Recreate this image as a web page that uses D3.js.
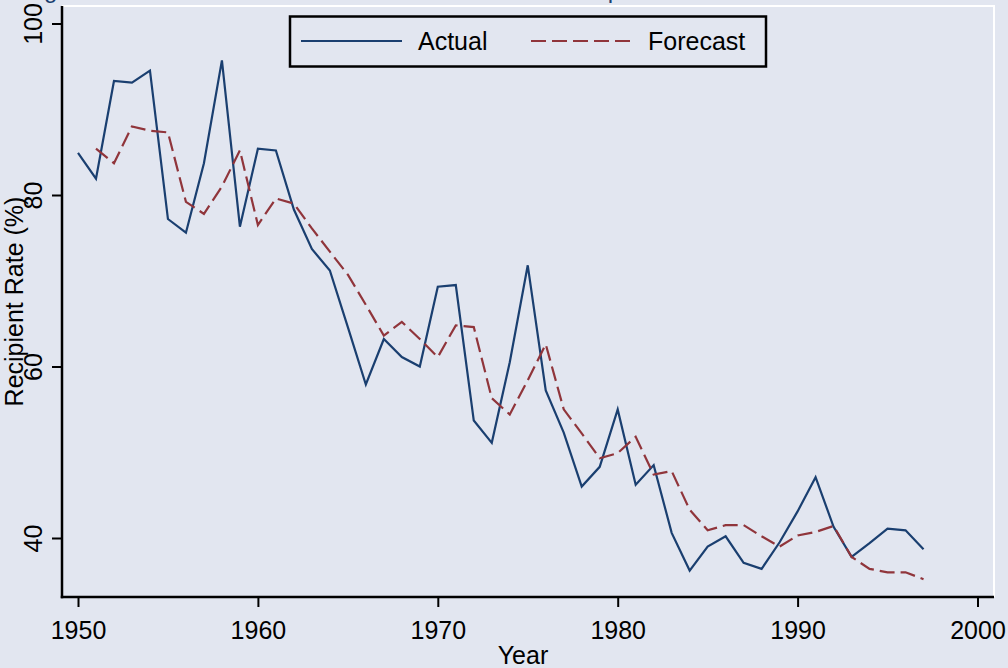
<!DOCTYPE html>
<html>
<head>
<meta charset="utf-8">
<script src="https://cdn.jsdelivr.net/npm/d3@7/dist/d3.min.js"></script>
<style>
  html, body { margin: 0; padding: 0; background: #e2e6f0; }
  svg { display: block; font-family: "Liberation Sans", Arial, sans-serif; }
</style>
</head>
<body>
<div id="chart"></div>
<script>
// data
const actualYears = d3.range(1950, 1998);
const actualValues = [
  84.9, 81.9, 93.3, 93.1, 94.5, 77.2, 75.6, 83.7, 95.7, 76.3,
  85.4, 85.2, 78.3, 73.7, 71.2, 64.6, 57.9, 63.2, 61.1, 60.0,
  69.3, 69.5, 53.7, 51.1, 60.5, 71.8, 57.2, 52.3, 46.0, 48.3,
  55.0, 46.2, 48.5, 40.6, 36.2, 39.0, 40.2, 37.1, 36.4, 39.5,
  43.1, 47.1, 41.3, 37.8, 39.4, 41.1, 40.9, 38.7
];
const forecastYears = d3.range(1951, 1998);
const forecastValues = [
  85.4, 83.7, 88.0, 87.5, 87.3, 79.2, 77.8, 81.0, 85.2,
  76.5, 79.6, 79.0, 76.1, 73.4, 70.7, 67.2, 63.6, 65.2, 63.2,
  61.1, 64.8, 64.6, 56.3, 54.4, 58.4, 62.6, 55.0, 52.2, 49.3,
  49.9, 51.8, 47.4, 47.8, 43.3, 40.9, 41.5, 41.5, 40.2, 39.0,
  40.3, 40.7, 41.4, 37.8, 36.4, 36.0, 36.0, 35.2
];
const xTicks = [1950, 1960, 1970, 1980, 1990, 2000];
const yTicks = [40, 60, 80, 100];
const seriesNames = ["Actual", "Forecast"];

const W = 1008, H = 668;
const plot = {left: 62, right: 994, top: 6, bottom: 597};
const navy = "#1a3f70", maroon = "#90353b";
const fs = "25px";

const svg = d3.select("#chart").append("svg")
  .attr("width", W).attr("height", H);

svg.append("rect").attr("width", W).attr("height", H).attr("fill", "#e2e6f0");

// SCALES
const xScale = d3.scaleLinear().domain([1950, 2000]).range([78, 977.5]);
const yScale = d3.scaleLinear().domain([40, 100]).range([538, 23.5]);

// title (only its descenders are left inside the frame)
svg.append("text")
  .attr("x", 24).attr("y", -2)
  .attr("fill", navy)
  .style("font-size", "24px")
  .text("Figure 1: Actual and Forecast Values of the AFDC Recipient Rate");

// plot region outline (white)
svg.append("path")
  .attr("d", `M${plot.left},${plot.top}H${plot.right}V${plot.bottom}`)
  .attr("fill", "none").attr("stroke", "#ffffff").attr("stroke-width", 2);

// AXES
const xAxis = d3.axisBottom(xScale).tickValues(xTicks).tickSize(10).tickFormat(d3.format("d"));
const yAxis = d3.axisLeft(yScale).tickValues(yTicks).tickSize(10);

const gx = svg.append("g").attr("class", "x axis")
  .attr("transform", `translate(0,${plot.bottom})`)
  .call(xAxis);
gx.select(".domain").remove();
gx.selectAll("line").attr("stroke", "#000").attr("stroke-width", 2);
gx.selectAll("text")
  .attr("fill", "#000").style("font-size", fs)
  .attr("y", 42).attr("dy", 0);

const gy = svg.append("g").attr("class", "y axis")
  .attr("transform", `translate(${plot.left},0)`)
  .call(yAxis);
gy.select(".domain").remove();
gy.selectAll("line").attr("stroke", "#000").attr("stroke-width", 2);
gy.selectAll("text")
  .attr("fill", "#000").style("font-size", fs)
  .attr("text-anchor", "middle")
  .attr("x", 0).attr("dy", 0)
  .attr("transform", "translate(-20,0) rotate(-90)");

// axis lines
svg.append("line")
  .attr("x1", plot.left).attr("x2", plot.left)
  .attr("y1", plot.top).attr("y2", plot.bottom + 1.25)
  .attr("stroke", "#000").attr("stroke-width", 2.5);
svg.append("line")
  .attr("x1", plot.left - 1.25).attr("x2", plot.right)
  .attr("y1", plot.bottom).attr("y2", plot.bottom)
  .attr("stroke", "#000").attr("stroke-width", 2.5);

// axis titles
svg.append("text")
  .attr("x", 523).attr("y", 664)
  .attr("text-anchor", "middle").style("font-size", fs)
  .text("Year");
svg.append("text")
  .attr("transform", `translate(23,${(plot.top + plot.bottom) / 2}) rotate(-90)`)
  .attr("text-anchor", "middle").style("font-size", fs)
  .text("Recipient Rate (%)");

// LINES
const line = d3.line()
  .x(d => xScale(d[0]))
  .y(d => yScale(d[1]));

svg.append("path")
  .datum(d3.zip(actualYears, actualValues))
  .attr("d", line)
  .attr("fill", "none").attr("stroke", navy).attr("stroke-width", 2.2);

svg.append("path")
  .datum(d3.zip(forecastYears, forecastValues))
  .attr("d", line)
  .attr("fill", "none").attr("stroke", maroon).attr("stroke-width", 2.2)
  .attr("stroke-dasharray", "15,6");

// LEGEND
const legend = svg.append("g");
legend.append("rect")
  .attr("x", 290).attr("y", 16.5).attr("width", 476).attr("height", 50)
  .attr("fill", "#e2e6f0").attr("stroke", "#000").attr("stroke-width", 2.5);
const items = [
  {name: seriesNames[0], color: navy, dash: null, x1: 301, x2: 402, tx: 418},
  {name: seriesNames[1], color: maroon, dash: "15,6", x1: 531, x2: 633, tx: 648}
];
items.forEach(it => {
  legend.append("line")
    .attr("x1", it.x1).attr("x2", it.x2).attr("y1", 41).attr("y2", 41)
    .attr("stroke", it.color).attr("stroke-width", 2.2)
    .attr("stroke-dasharray", it.dash);
  legend.append("text")
    .attr("x", it.tx).attr("y", 50)
    .style("font-size", fs)
    .text(it.name);
});
</script>
</body>
</html>
